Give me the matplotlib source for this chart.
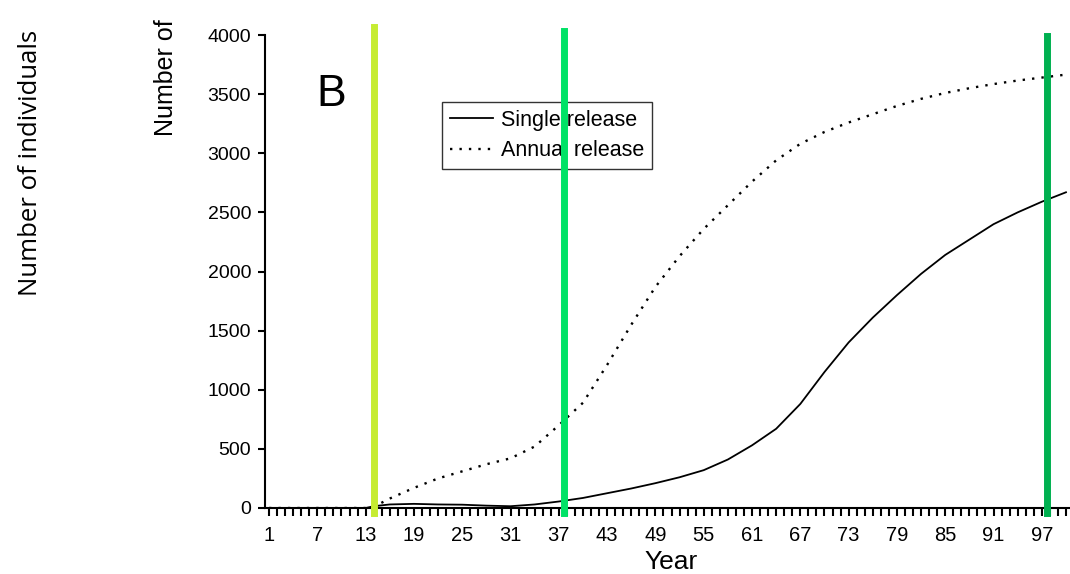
import numpy as np
import matplotlib.pyplot as plt

years = [1, 13, 14, 16, 19, 22, 25, 28, 31, 34, 37, 40, 43, 46, 49, 52, 55,
         58, 61, 64, 67, 70, 73, 76, 79, 82, 85, 88, 91, 94, 97, 100]
single = [0, 0, 15, 30, 35, 30, 28, 20, 15, 30, 55, 85, 125, 165, 210, 260, 320,
          410, 530, 670, 880, 1150, 1400, 1610, 1800, 1980, 2140, 2270, 2400, 2500, 2590, 2670]
annual = [0, 0, 10, 80, 170, 250, 310, 370, 420, 520, 700, 890, 1210, 1550, 1870, 2130, 2360,
          2560, 2760, 2940, 3080, 3180, 3260, 3330, 3400, 3460, 3510, 3550, 3585, 3615, 3640, 3665]
labelled_years = list(range(1, 101, 6))
marker_years = [14, 37.6, 97.6]
marker_colors = ['#c6ec32', '#00e266', '#00b050']

plt.rcParams['font.family'] = ['Liberation Sans', 'DejaVu Sans']

fig = plt.figure(figsize=(10.7, 5.74), dpi=100)
ax = fig.add_axes([265 / 1070, 66 / 574, 805 / 1070, 473 / 574])

ax.plot(years, single, color='black', lw=1.3, label='Single release')
ax.plot(years, annual, color='black', lw=1.7, ls=(0, (1, 3)), label='Annual release')

ax.set_xlim(0.5, 100.5)
ax.set_ylim(0, 4000)
ax.set_yticks(np.arange(0, 4001, 500))
ax.set_xticks(labelled_years)
ax.set_xticks(np.arange(1, 101), minor=True)
ax.tick_params(axis='y', direction='out', length=5, width=1.5, labelsize=14, pad=5)
ax.tick_params(axis='x', which='both', direction='out', length=6, width=1.5,
               labelsize=14.5, pad=7)
for s in ['top', 'right']:
    ax.spines[s].set_visible(False)
for s in ['left', 'bottom']:
    ax.spines[s].set_linewidth(1.5)

ax.set_xlabel('Year', fontsize=19)
ax.xaxis.set_label_coords((671 - 265) / 805, -0.088)

ax.text(0.082, 0.875, 'B', transform=ax.transAxes, fontsize=32, va='center', ha='center')

leg = ax.legend(loc='upper left', bbox_to_anchor=(0.22, 0.858), fontsize=15.5,
                frameon=True, fancybox=False, edgecolor='black', handlelength=2.0,
                borderpad=0.35, labelspacing=0.45, handletextpad=0.4, borderaxespad=0)
leg.get_frame().set_linewidth(1.0)
leg.set_zorder(4)

tops = [1.016, 1.008, 0.998]
for yr, c, t in zip(marker_years, marker_colors, tops):
    ax.axvline(yr, ymin=-0.01, ymax=t, color=c, lw=5, clip_on=False, zorder=10)

fig.text(166 / 1070, 1 - 78 / 574, 'Number of', rotation=90, fontsize=18,
         ha='center', va='center')
fig.text(31 / 1070, 1 - 163 / 574, 'Number of individuals', rotation=90, fontsize=18.5,
         ha='center', va='center', family=['Open Sans', 'DejaVu Sans'])

fig.savefig('out.png', dpi=100)
